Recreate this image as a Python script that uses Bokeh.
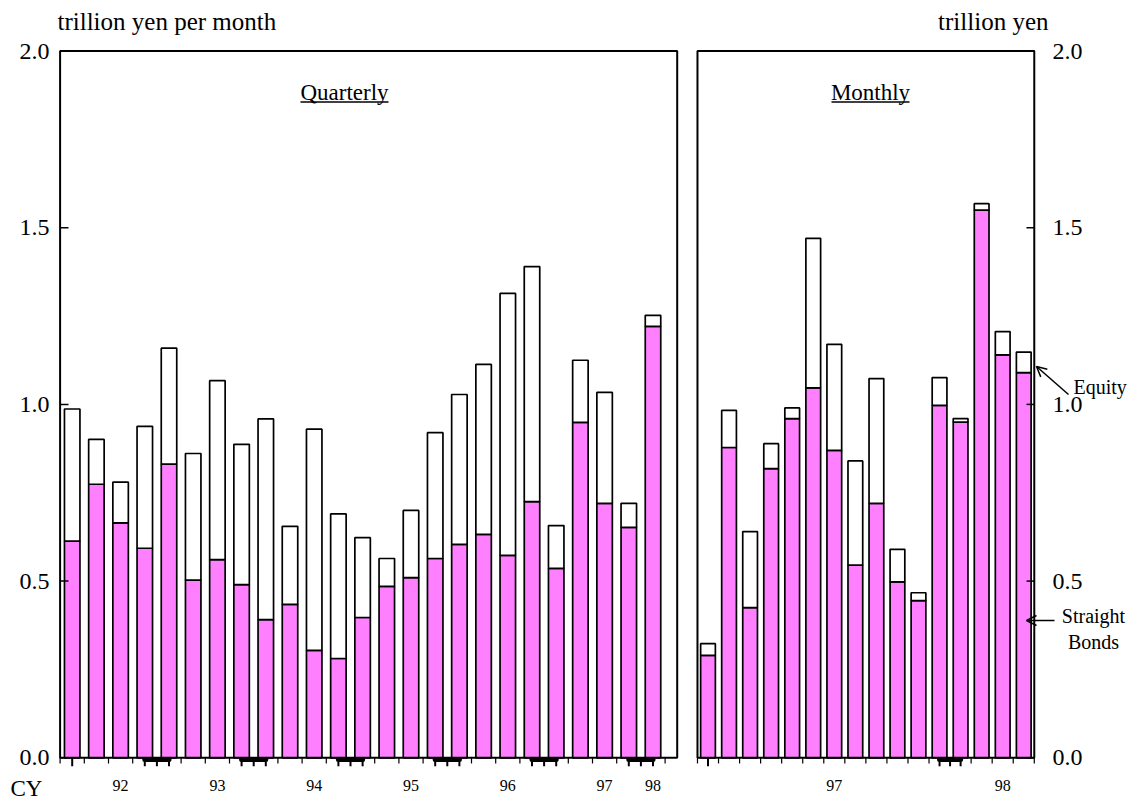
from bokeh.plotting import figure
from bokeh.models import Range1d, Label, Arrow, OpenHead, ColumnDataSource
from bokeh.core.properties import value
from bokeh.embed import file_html
from bokeh.resources import INLINE

# ---------------- data ----------------
q_periods = ["92Q1", "92Q2", "92Q3", "92Q4", "93Q1", "93Q2", "93Q3", "93Q4",
             "94Q1", "94Q2", "94Q3", "94Q4", "95Q1", "95Q2", "95Q3", "95Q4",
             "96Q1", "96Q2", "96Q3", "96Q4", "97Q1", "97Q2", "97Q3", "97Q4", "98Q1"]
q_bonds = [0.613, 0.774, 0.665, 0.593, 0.831, 0.503, 0.561, 0.490, 0.391, 0.434,
           0.304, 0.281, 0.397, 0.485, 0.510, 0.564, 0.604, 0.632, 0.573, 0.725,
           0.536, 0.949, 0.720, 0.652, 1.221]
q_equity = [0.374, 0.127, 0.115, 0.345, 0.328, 0.358, 0.506, 0.397, 0.568, 0.221,
            0.626, 0.409, 0.226, 0.079, 0.190, 0.356, 0.424, 0.481, 0.741, 0.665,
            0.121, 0.176, 0.314, 0.068, 0.031]

m_periods = ["97/01", "97/02", "97/03", "97/04", "97/05", "97/06", "97/07", "97/08",
             "97/09", "97/10", "97/11", "97/12", "98/01", "98/02", "98/03", "98/04"]
m_bonds = [0.290, 0.878, 0.425, 0.818, 0.960, 1.047, 0.870, 0.545,
           0.720, 0.498, 0.445, 0.997, 0.950, 1.550, 1.140, 1.090]
m_equity = [0.033, 0.105, 0.215, 0.071, 0.030, 0.423, 0.300, 0.295,
            0.353, 0.092, 0.022, 0.079, 0.010, 0.018, 0.066, 0.058]

y_ticks = [0.0, 0.5, 1.0, 1.5, 2.0]
y_tick_labels = ["0.0", "0.5", "1.0", "1.5", "2.0"]

# ---------------- layout / style ----------------
FONT = "Liberation Serif"
PINK = "#FF80FF"
W, H = 1135, 804
BASE_PX, PX_PER_UNIT = 757.3, 353.4        # value 0 baseline and scale (pixels)
Q0_PX, Q_STEP = 71.7, 24.2                 # first quarterly bar centre, spacing
M0_PX, M_STEP = 707.5, 21.05               # first monthly bar centre, spacing

p = figure(width=W, height=H, x_range=Range1d(0, W), y_range=Range1d(H, 0),
           x_axis_type=None, y_axis_type=None, min_border=0,
           output_backend="svg", toolbar_location=None)
p.extra_y_ranges = {"val": Range1d((BASE_PX - H) / PX_PER_UNIT, BASE_PX / PX_PER_UNIT)}
p.extra_x_ranges = {
    "q": Range1d(-Q0_PX / Q_STEP, (W - Q0_PX) / Q_STEP),
    "m": Range1d(-M0_PX / M_STEP, (W - M0_PX) / M_STEP),
}
p.outline_line_color = None
p.background_fill_color = "white"
p.border_fill_color = "white"


def year_groups(periods):
    groups = []
    for i, per in enumerate(periods):
        yr = per[:2]
        if groups and groups[-1][0] == yr:
            groups[-1][2] = i
        else:
            groups.append([yr, i, i])
    return groups


def panel(rng, periods, bonds, equity, bar_w, box_end):
    n = len(periods)
    tops = [b + e for b, e in zip(bonds, equity)]
    src = ColumnDataSource(dict(x=list(range(n)), bonds=bonds, top=tops))
    p.vbar(x="x", bottom=0, top="bonds", width=bar_w, fill_color=PINK,
           line_color="black", line_width=1.7, source=src,
           x_range_name=rng, y_range_name="val")
    p.vbar(x="x", bottom="bonds", top="top", width=bar_w, fill_color="white",
           line_color="black", line_width=1.7, source=src,
           x_range_name=rng, y_range_name="val")
    # frame
    p.quad(left=[-0.5], right=[box_end], bottom=[0], top=[2.0], fill_color=None,
           line_color="black", line_width=2, x_range_name=rng, y_range_name="val")

    groups = year_groups(periods)
    bnd = [(groups[k][2], groups[k + 1][1]) for k in range(len(groups) - 1)]
    marker_mid = [a + 0.5 for a, b in bnd]
    short_ticks = [i - 0.5 for i in range(n + 1) if (i - 0.5) not in marker_mid]
    p.segment(x0=short_ticks, y0=[0] * len(short_ticks), x1=short_ticks,
              y1=[-0.016] * len(short_ticks), line_color="black", line_width=1.2,
              x_range_name=rng, y_range_name="val")
    long_ticks = [0] + [v for a, b in bnd for v in (a, a + 0.5, b)]
    p.segment(x0=long_ticks, y0=[0] * len(long_ticks), x1=long_ticks,
              y1=[-0.024] * len(long_ticks), line_color="black", line_width=2,
              x_range_name=rng, y_range_name="val")
    p.segment(x0=[a for a, b in bnd], y0=[-0.005] * len(bnd),
              x1=[b for a, b in bnd], y1=[-0.005] * len(bnd),
              line_color="black", line_width=5, line_cap="round",
              x_range_name=rng, y_range_name="val")

    # year labels under the axis
    lab_pos = [g[1] + (g[2] - g[1] + 1) // 2 for g in groups]
    p.text(x=lab_pos, y=[785] * len(lab_pos), text=[g[0] for g in groups],
           text_font=value(FONT), text_font_size=value("16px"), text_color="black",
           text_align="center", text_baseline="middle", x_range_name=rng)


panel("q", q_periods, q_bonds, q_equity, 0.64, 25.0)
panel("m", m_periods, m_bonds, m_equity, 0.70, 15.5)

# y ticks (inside frames) and tick labels
nt = len(y_ticks)
p.segment(x0=[60] * nt, y0=y_ticks, x1=[68] * nt, y1=y_ticks, line_color="black",
          line_width=1.5, y_range_name="val")
p.segment(x0=[1034] * nt, y0=y_ticks, x1=[1026] * nt, y1=y_ticks, line_color="black",
          line_width=1.5, y_range_name="val")
p.text(x=[49] * nt, y=y_ticks, text=y_tick_labels, text_font=value(FONT),
       text_font_size=value("24px"), text_color="black", text_align="right",
       text_baseline="middle", y_range_name="val")
p.text(x=[1052] * nt, y=y_ticks, text=y_tick_labels, text_font=value(FONT),
       text_font_size=value("24px"), text_color="black", text_align="left",
       text_baseline="middle", y_range_name="val")


def label(x, y, text, size, align="left"):
    p.add_layout(Label(x=x, y=y, text=text, text_font=FONT, text_font_size=size,
                       text_color="black", text_align=align, text_baseline="middle"))


label(57, 21, "trillion yen per month", "25px")
label(1048, 21, "trillion yen", "25px", "right")
label(344, 92, "Quarterly", "23px", "center")
label(870, 92, "Monthly", "23px", "center")
p.segment(x0=[300, 831], y0=[101.5, 101.5], x1=[388, 909], y1=[101.5, 101.5],
          line_color="black", line_width=1.3)
label(10, 788, "CY", "23px")

label(1073, 386, "Equity", "20px")
p.add_layout(Arrow(x_start=1068, y_start=394, x_end=1036, y_end=366,
                   line_color="black", line_width=1.5,
                   end=OpenHead(size=10, line_width=1.5, line_color="black")))
label(1093, 615, "Straight", "20px", "center")
label(1093, 641, "Bonds", "20px", "center")
p.add_layout(Arrow(x_start=1054, y_start=620, x_end=1026, y_end=620,
                   line_color="black", line_width=1.5,
                   end=OpenHead(size=10, line_width=1.5, line_color="black")))

open("out.html", "w").write(file_html(p, INLINE))
